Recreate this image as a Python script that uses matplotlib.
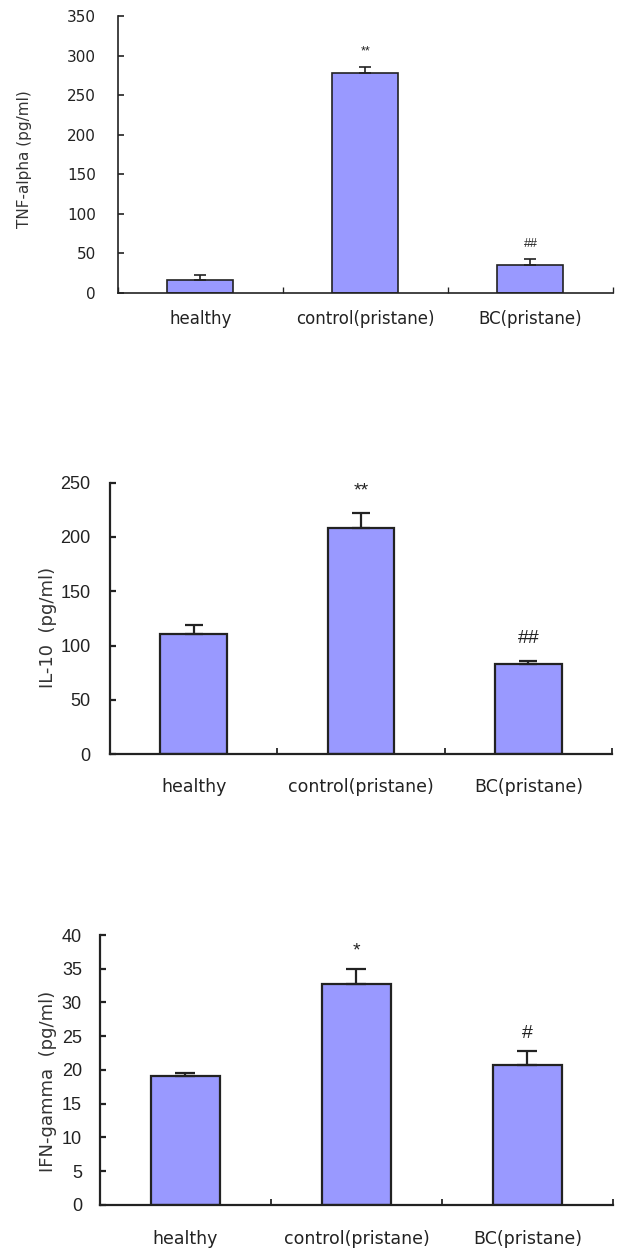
import matplotlib
matplotlib.use("Agg")
import matplotlib.pyplot as plt
import numpy as np

# Cytokine levels per group (mean and upper SE)
groups = ["healthy", "control(pristane)", "BC(pristane)"]

tnf_mean = [17, 278, 36]
tnf_err = [6, 8, 7]
tnf_marks = ["", "**", "##"]

il10_mean = [111, 208, 83]
il10_err = [8, 14, 3]
il10_marks = ["", "**", "##"]

ifn_mean = [19.1, 32.7, 20.8]
ifn_err = [0.5, 2.2, 2.0]
ifn_marks = ["", "*", "#"]

bar_color = "#9999ff"
ink = "#222222"

fig = plt.figure(figsize=(6.23, 12.48), dpi=100)


def draw_panel(rect, means, errs, marks, ylabel, ymax, ystep, xright,
               tick_fs, tick_font, xlab_fs, ylab_fs, ylab_pos, mark_fs,
               mark_off, ypad, xpad, lw, capsize, ticklen):
    ax = fig.add_axes(rect)
    x = np.arange(len(means))
    ax.bar(x, means, width=0.40, color=bar_color, edgecolor=ink, linewidth=lw, zorder=2)
    ax.errorbar(x, means, yerr=[np.zeros(len(errs)), errs], fmt="none",
                ecolor=ink, elinewidth=lw, capsize=capsize, capthick=lw, zorder=3)
    for i, m in enumerate(marks):
        if m:
            ax.annotate(m, (x[i], means[i] + errs[i]), xytext=(0, mark_off),
                        textcoords="offset points", ha="center", va="center",
                        fontsize=mark_fs, family="Liberation Sans", color=ink)

    ax.set_xlim(-0.5, xright)
    ax.set_ylim(0, ymax)
    ax.set_yticks(np.arange(0, ymax + ystep / 2, ystep))
    ax.set_xticks(x)
    ax.set_xticklabels(groups, fontsize=xlab_fs, family="DejaVu Sans", color=ink)
    ax.set_xticks(np.arange(-0.5, 2.6, 1.0), minor=True)
    ax.tick_params(axis="x", which="major", length=0, pad=xpad)
    ax.tick_params(axis="x", which="minor", direction="in", length=ticklen,
                   width=lw * 0.8, color=ink)
    ax.tick_params(axis="y", direction="in", length=ticklen, width=lw,
                   color=ink, pad=ypad, labelsize=tick_fs, labelcolor=ink)
    for lab in ax.get_yticklabels():
        lab.set_family(tick_font)

    for s in ["top", "right"]:
        ax.spines[s].set_visible(False)
    for s in ["left", "bottom"]:
        ax.spines[s].set_linewidth(lw)
        ax.spines[s].set_color(ink)

    ax.set_ylabel(ylabel, fontsize=ylab_fs, family="DejaVu Sans", color="#333333")
    ax.yaxis.label.set_verticalalignment("center")
    ax.yaxis.set_label_coords(*ylab_pos)
    return ax


# TNF-alpha
draw_panel([0.1894, 0.7652, 0.7945, 0.2220], tnf_mean, tnf_err, tnf_marks,
           "TNF-alpha (pg/ml)", 350, 50, 2.334,
           tick_fs=11, tick_font="DejaVu Sans", xlab_fs=12, ylab_fs=11,
           ylab_pos=(-0.188, 0.484), mark_fs=9, mark_off=11,
           ypad=16, xpad=12, lw=1.2, capsize=4, ticklen=4)

# IL-10
draw_panel([0.1766, 0.3958, 0.8057, 0.2174], il10_mean, il10_err, il10_marks,
           "IL-10  (pg/ml)", 250, 50, 2.5,
           tick_fs=13, tick_font="Liberation Sans", xlab_fs=12.5, ylab_fs=13,
           ylab_pos=(-0.1235, 0.466), mark_fs=14, mark_off=16,
           ypad=14, xpad=17, lw=1.6, capsize=6.5, ticklen=4.5)

# IFN-gamma
draw_panel([0.1605, 0.0345, 0.8234, 0.2163], ifn_mean, ifn_err, ifn_marks,
           "IFN-gamma  (pg/ml)", 40, 5, 2.5,
           tick_fs=13, tick_font="Liberation Sans", xlab_fs=12.5, ylab_fs=13,
           ylab_pos=(-0.101, 0.457), mark_fs=14, mark_off=13,
           ypad=13, xpad=18, lw=1.6, capsize=7, ticklen=4.5)

fig.savefig("out.png", dpi=100)
